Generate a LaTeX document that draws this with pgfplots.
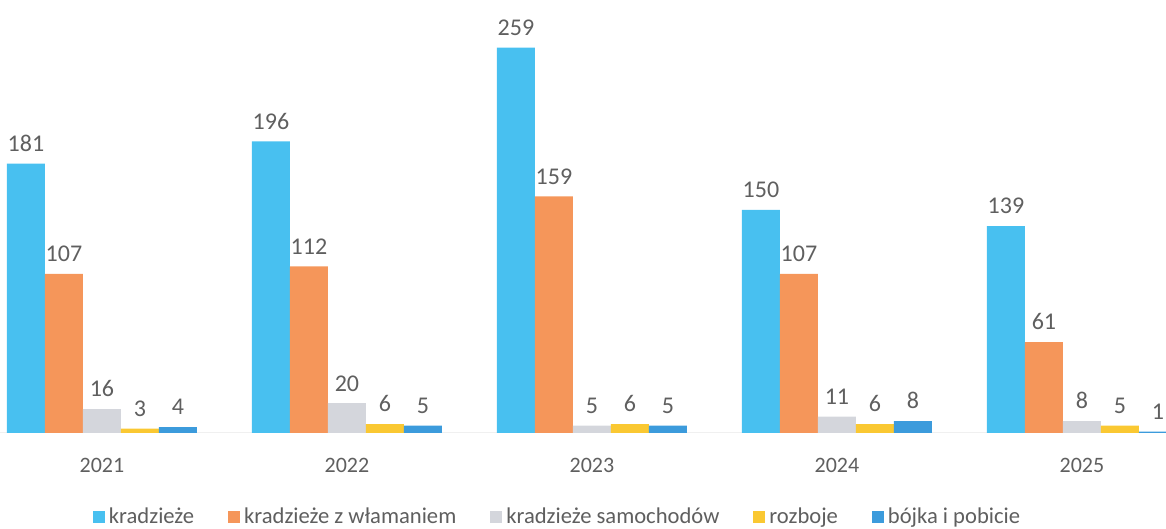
\documentclass[border=0pt]{standalone}
\usepackage{pgfplots}
\pgfplotsset{compat=1.18}
\usepackage{fontspec}
\setmainfont{Carlito}
\definecolor{cA}{RGB}{72,192,240}
\definecolor{cB}{RGB}{245,150,90}
\definecolor{cC}{RGB}{212,214,220}
\definecolor{cD}{RGB}{250,200,50}
\definecolor{cE}{RGB}{60,155,220}
\definecolor{lab}{RGB}{95,95,95}
\begin{document}
\begin{tikzpicture}
\begin{axis}[
  scale only axis, width=583pt, height=216.5pt,
  xmin=-0.416, xmax=4.343, ymin=0, ymax=291,
  hide y axis,
  axis x line*=bottom,
  x axis line style={draw=gray!12, line width=0.5pt},
  xtick={0,1,2,3,4},
  xticklabels={2021,2022,2023,2024,2025},
  major tick length=0pt,
  xticklabel style={font=\fontsize{11}{13}\selectfont, text=lab, yshift=-9pt},
  /pgf/number format/assume math mode=true,
  ybar=0pt, bar width=19pt,
  nodes near coords,
  every node near coord/.append style={font=\fontsize{12}{14}\selectfont, text=lab, yshift=2.5pt},
  clip=false,
  legend columns=5,
  legend style={draw=none, at={(0.479,-0.194)}, anchor=center,
    font=\fontsize{11.3}{13}\selectfont, text=lab,
    /tikz/every even column/.append style={column sep=15pt},
    legend cell align=left},
  legend image code/.code={\fill[#1] (0pt,-3pt) rectangle (6pt,3pt);},
]
\addplot[fill=cA, draw=none] coordinates {(0,181) (1,196) (2,259) (3,150) (4,139)};
\addplot[fill=cB, draw=none] coordinates {(0,107) (1,112) (2,159) (3,107) (4,61)};
\addplot[fill=cC, draw=none] coordinates {(0,16) (1,20) (2,5) (3,11) (4,8)};
\addplot[fill=cD, draw=none] coordinates {(0,3) (1,6) (2,6) (3,6) (4,5)};
\addplot[fill=cE, draw=none] coordinates {(0,4) (1,5) (2,5) (3,8) (4,1)};
\legend{kradzieże, kradzieże z włamaniem, kradzieże samochodów, rozboje, bójka i pobicie}
\end{axis}
\pgfresetboundingbox
\path[use as bounding box] (0,-48pt) rectangle (583pt,216.5pt);
\end{tikzpicture}
\end{document}
